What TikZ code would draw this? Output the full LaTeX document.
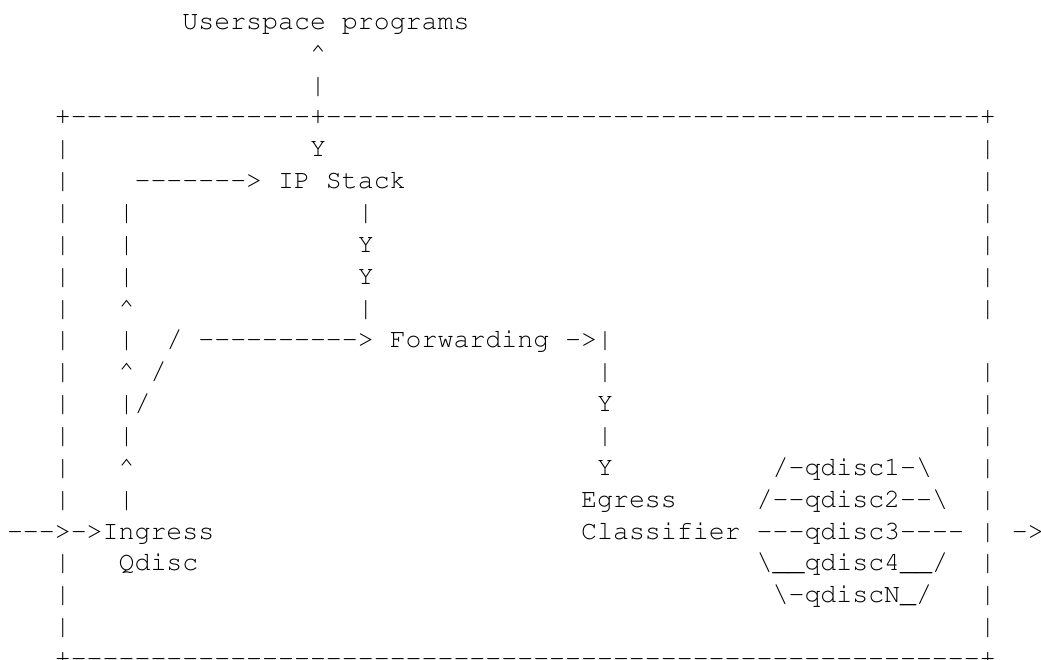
\documentclass[tikz,border=0pt]{standalone}
\usepackage[T1]{fontenc}
\renewcommand\ttdefault{pcr}
% a run of hyphens that stay hyphens (no -- ligature)
\newcommand\dashes[1]{\foreach\D in {1,...,#1}{-}}
\begin{document}
\begin{tikzpicture}[x=15.95pt,y=-31.85pt,
    ascii/.style={anchor=base west,inner sep=0pt,outer sep=0pt,
      font=\ttfamily\fontsize{26.58pt}{31.85pt}\selectfont}]
  \useasboundingbox (0pt,0pt) rectangle (1041pt,-660pt);
  \begin{scope}[shift={(7pt,2.4pt)}]
    % way up to userspace
    \node[ascii] (user) at (11,1) {Userspace programs};
    \node[ascii] (user-tip) at (19,2) {\textasciicircum};
    \node[ascii] (user-bar) at (19,3) {|};
    % the box
    \node[ascii] (top) at (3,4) {+\dashes{15}+\dashes{41}+};
    \node[ascii] (bottom) at (3,21) {+\dashes{57}+};
    \foreach \R in {5,...,16,18,19,20}
      \node[ascii] (L-\R) at (3,\R) {|};
    \foreach \R in {5,...,10,12,13,...,20}
      \node[ascii] (R-\R) at (61,\R) {|};
    % ip stack
    \node[ascii] (stack-in) at (19,5) {Y};
    \node[ascii] (ipstack) at (8,6) {\dashes{7}> IP Stack};
    \foreach \X [count=\Y] in {|,Y,Y,|}
      \node[ascii] (S-\Y) at (22,\Y+6) {\X};
    % ingress column
    \foreach \X [count=\Y] in {|,|,|,\textasciicircum,|,\textasciicircum,|/,|,\textasciicircum,|}
      \node[ascii] (I-\Y) at (7,\Y+6) {\X};
    \node[ascii] (slash) at (9,12) {/};
    \node[ascii] (forwarding) at (10,11) {/ \dashes{10}> Forwarding ->|};
    \foreach \X [count=\Y] in {|,Y,|,Y}
      \node[ascii] (F-\Y) at (37,\Y+11) {\X};
    \node[ascii] (ingress) at (0,17) {\dashes{3}>->Ingress};
    \node[ascii] (qdisc) at (7,18) {Qdisc};
    % egress
    \node[ascii] (egress) at (36,16) {Egress};
    \node[ascii] (classifier) at (36,17) {Classifier};
    \node[ascii] (Q-1) at (48,15) {/-qdisc1-\textbackslash};
    \node[ascii] (Q-2) at (47,16) {/\dashes{2}qdisc2\dashes{2}\textbackslash};
    \node[ascii] (Q-3) at (47,17) {\dashes{3}qdisc3\dashes{4}};
    \node[ascii] (Q-4) at (47,18) {\textbackslash\_\_qdisc4\_\_/};
    \node[ascii] (Q-N) at (48,19) {\textbackslash-qdiscN\_/};
    \node[ascii] (out) at (63,17) {->};
  \end{scope}
\end{tikzpicture}
\end{document}
